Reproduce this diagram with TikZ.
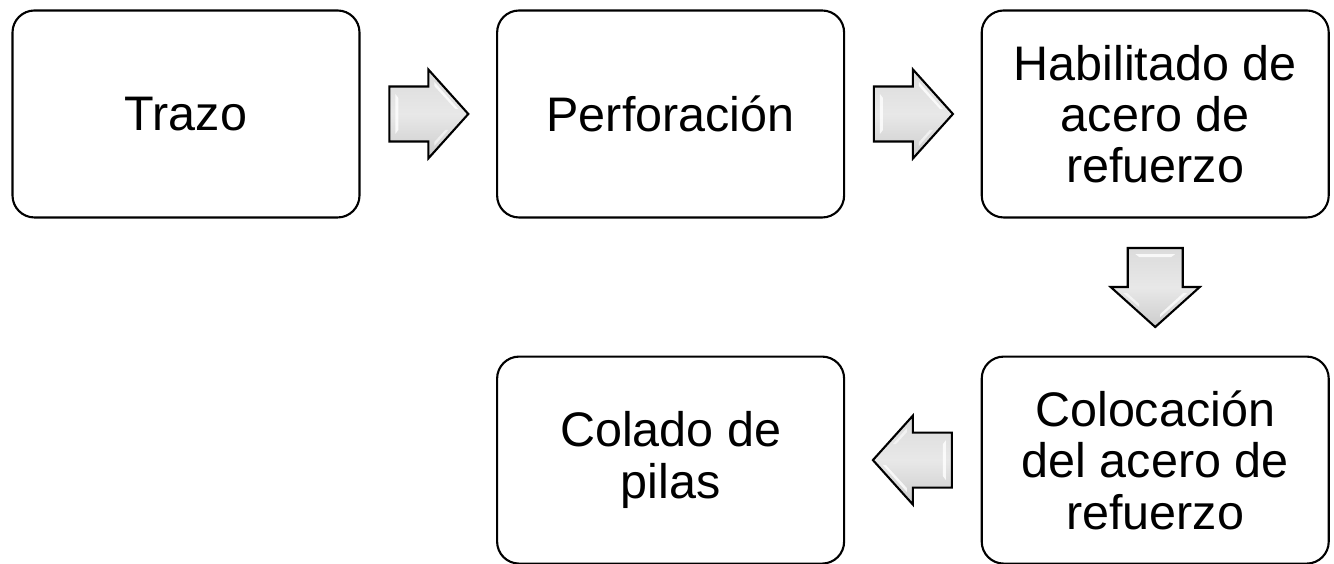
\documentclass[tikz,border=0pt]{standalone}
\usepackage{fontspec}
\setmainfont{Liberation Sans}
\usetikzlibrary{positioning,calc}

\tikzset{
    stepbox/.style={draw=black, line width=0.6pt, rounded corners=0.22cm, fill=white,
        minimum width=3.47cm, minimum height=2.07cm, align=center,
        font=\fontsize{13.8}{14.6}\selectfont},
    pics/blockarrow/.style={code={
        \shade[draw=black, line width=0.6pt, line join=miter, top color=gray!28, bottom color=gray!40, middle color=gray!18]
            (-0.39,-0.275) -- (0,-0.275) -- (0,-0.445) -- (0.4,0) -- (0,0.445) -- (0,0.275) -- (-0.39,0.275) -- cycle;
        \fill[white, opacity=0.8] (-0.33,-0.2) -- (-0.3,-0.16) -- (-0.3,0.16) -- (-0.33,0.2) -- cycle;
        \fill[white, opacity=0.8] (0.06,0.32) -- (0.3,0.05) -- (0.27,0.05) -- (0.06,0.28) -- cycle;
        \fill[white, opacity=0.6] (0.06,-0.32) -- (0.2,-0.16) -- (0.17,-0.16) -- (0.06,-0.28) -- cycle;
    }}
}

\begin{document}
\begin{tikzpicture}[node distance=1.37cm and 1.355cm]
    \useasboundingbox (0,0) rectangle (13.34,5.64);

    % process steps
    \node[stepbox] (trazo) at (1.86,4.50) {Trazo};
    \node[stepbox, right=of trazo] (perf) {Perforación};
    \node[stepbox, right=of perf] (habil) {Habilitado de\\acero de\\refuerzo};
    \node[stepbox, below=of habil] (coloc) {Colocación\\del acero de\\refuerzo};
    \node[stepbox, left=of coloc] (colado) {Colado de\\pilas};

    % block arrows between the steps
    \coordinate (a1) at ($(trazo.east)!0.5!(perf.west)$);
    \coordinate (a2) at ($(perf.east)!0.5!(habil.west)$);
    \coordinate (a3) at ($(habil.south)!0.5!(coloc.north)$);
    \coordinate (a4) at ($(coloc.west)!0.5!(colado.east)$);

    \pic at (a1) {blockarrow};
    \pic at (a2) {blockarrow};
    \pic[rotate=-90] at (a3) {blockarrow};
    \pic[rotate=180] at (a4) {blockarrow};

\end{tikzpicture}
\end{document}
